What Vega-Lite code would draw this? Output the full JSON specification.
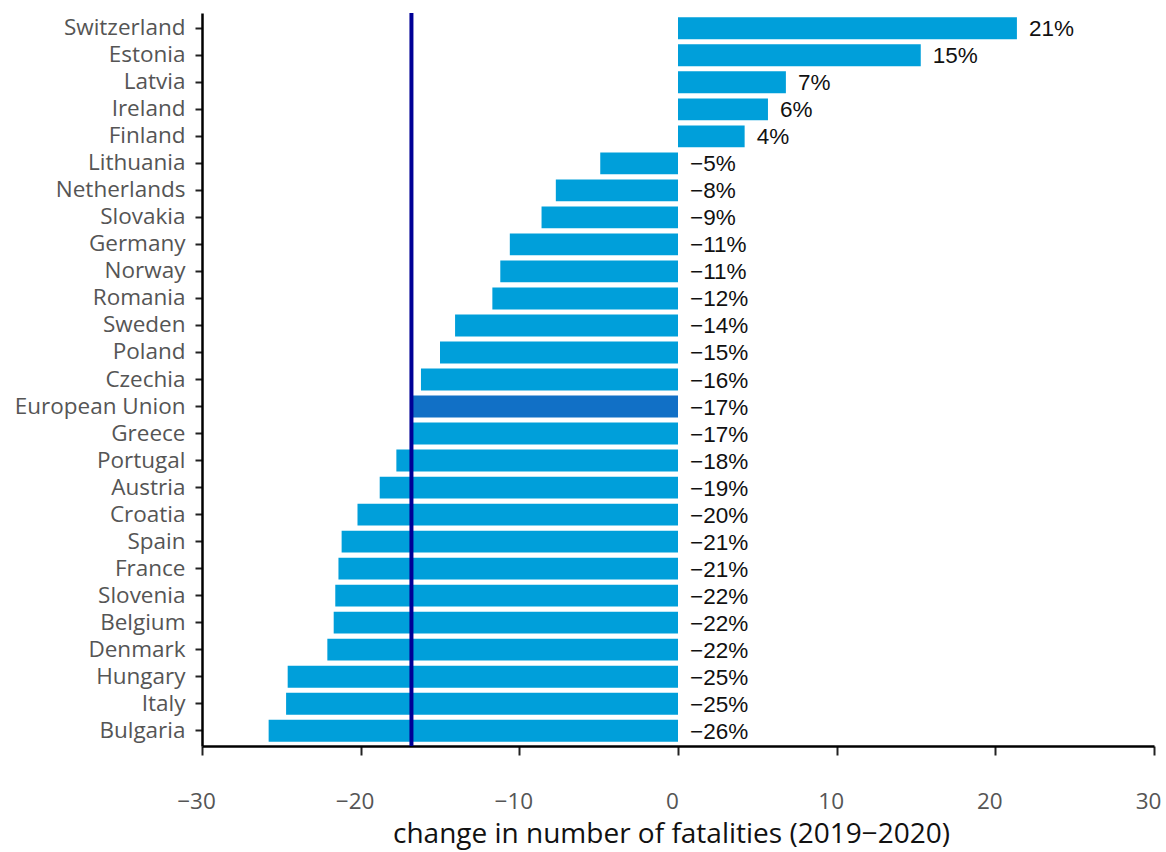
{
  "$schema": "https://vega.github.io/schema/vega-lite/v6.json",
  "autosize": "none",
  "width": 952,
  "height": 733,
  "padding": {"left": 202, "top": 13, "right": 12, "bottom": 106},
  "background": "white",
  "config": {"view": {"stroke": null}},
  "data": {"values": [
    {"country": "Switzerland", "change": 21.36, "label": "21%", "group": "country"},
    {"country": "Estonia", "change": 15.3, "label": "15%", "group": "country"},
    {"country": "Latvia", "change": 6.8, "label": "7%", "group": "country"},
    {"country": "Ireland", "change": 5.67, "label": "6%", "group": "country"},
    {"country": "Finland", "change": 4.2, "label": "4%", "group": "country"},
    {"country": "Lithuania", "change": -4.9, "label": "−5%", "group": "country"},
    {"country": "Netherlands", "change": -7.7, "label": "−8%", "group": "country"},
    {"country": "Slovakia", "change": -8.6, "label": "−9%", "group": "country"},
    {"country": "Germany", "change": -10.6, "label": "−11%", "group": "country"},
    {"country": "Norway", "change": -11.2, "label": "−11%", "group": "country"},
    {"country": "Romania", "change": -11.7, "label": "−12%", "group": "country"},
    {"country": "Sweden", "change": -14.05, "label": "−14%", "group": "country"},
    {"country": "Poland", "change": -15.0, "label": "−15%", "group": "country"},
    {"country": "Czechia", "change": -16.2, "label": "−16%", "group": "country"},
    {"country": "European Union", "change": -16.8, "label": "−17%", "group": "EU"},
    {"country": "Greece", "change": -16.8, "label": "−17%", "group": "country"},
    {"country": "Portugal", "change": -17.75, "label": "−18%", "group": "country"},
    {"country": "Austria", "change": -18.8, "label": "−19%", "group": "country"},
    {"country": "Croatia", "change": -20.2, "label": "−20%", "group": "country"},
    {"country": "Spain", "change": -21.2, "label": "−21%", "group": "country"},
    {"country": "France", "change": -21.4, "label": "−21%", "group": "country"},
    {"country": "Slovenia", "change": -21.6, "label": "−22%", "group": "country"},
    {"country": "Belgium", "change": -21.7, "label": "−22%", "group": "country"},
    {"country": "Denmark", "change": -22.1, "label": "−22%", "group": "country"},
    {"country": "Hungary", "change": -24.6, "label": "−25%", "group": "country"},
    {"country": "Italy", "change": -24.7, "label": "−25%", "group": "country"},
    {"country": "Bulgaria", "change": -25.8, "label": "−26%", "group": "country"}
  ]},
  "layer": [
    {
      "mark": {"type": "bar"},
      "encoding": {
        "y": {
          "field": "country", "type": "nominal", "sort": null,
          "scale": {"paddingInner": 0.19, "paddingOuter": 0.16},
          "axis": {
            "title": null, "domainColor": "#000000", "domainWidth": 2.5,
            "tickColor": "#222222", "tickWidth": 2, "tickSize": 7,
            "labelFont": "Open Sans", "labelFontSize": 22.5, "labelColor": "#555555",
            "labelPadding": 10
          }
        },
        "x": {
          "field": "change", "type": "quantitative",
          "scale": {"domain": [-30, 30], "nice": false},
          "axis": {
            "values": [-30, -20, -10, 0, 10, 20, 30],
            "title": "change in number of fatalities (2019−2020)",
            "titleFont": "Open Sans", "titleFontSize": 28, "titleFontWeight": "normal",
            "titleColor": "#111111", "titlePadding": 8, "titleX": 469,
            "labelFont": "Open Sans", "labelFontSize": 22.5, "labelColor": "#555555",
            "labelPadding": 35, "labelFlush": false, "labelOffset": -6, "labelOverlap": false, "grid": false,
            "domainColor": "#000000", "domainWidth": 2.5,
            "tickColor": "#222222", "tickWidth": 2, "tickSize": 9
          }
        },
        "x2": {"datum": 0},
        "color": {
          "field": "group", "type": "nominal",
          "scale": {"domain": ["country", "EU"], "range": ["#009FDA", "#1170C6"]},
          "legend": null
        }
      }
    },
    {
      "transform": [{"calculate": "max(datum.change, 0)", "as": "labelpos"}],
      "mark": {"type": "text", "align": "left", "baseline": "middle", "dx": 12, "dy": 1, "font": "Liberation Sans", "fontSize": 22.5, "color": "#111111"},
      "encoding": {
        "y": {"field": "country", "type": "nominal", "sort": null},
        "x": {"field": "labelpos", "type": "quantitative"},
        "text": {"field": "label"}
      }
    },
    {
      "data": {"values": [{"eu": -16.8}]},
      "mark": {"type": "rule", "color": "#000096", "strokeWidth": 4},
      "encoding": {"x": {"field": "eu", "type": "quantitative"}}
    }
  ]
}
